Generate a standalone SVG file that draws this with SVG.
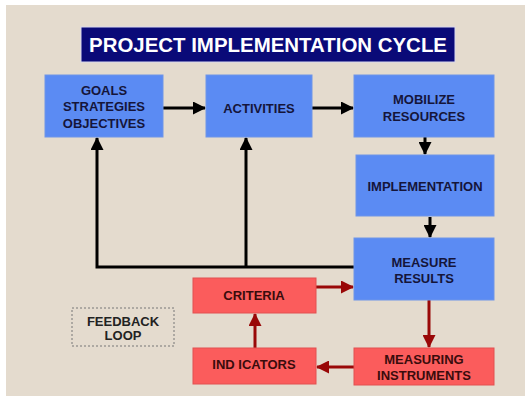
<svg xmlns="http://www.w3.org/2000/svg" width="529" height="396" viewBox="0 0 529 396">
<style>
.bg{fill:#e4dbce}
.blue{fill:#5b8bf3;stroke:#6f95e8;stroke-width:1}
.red{fill:#fb5c5c;stroke:#e25050;stroke-width:1}
.t{font-family:"Liberation Sans",Arial,sans-serif;font-weight:bold;font-size:13px;text-anchor:middle}
.tb{fill:#15153a}
.tr{fill:#3a0c0c}
.k{fill:none;stroke:#000;stroke-width:3}
.r{fill:none;stroke:#990808;stroke-width:3}
</style>
<defs>
<marker id="ak" markerUnits="userSpaceOnUse" markerWidth="13" markerHeight="13" viewBox="0 0 13 13" refX="12" refY="6.5" orient="auto"><path d="M0,0 L13,6.5 L0,13 Z" fill="#000"/></marker>
<marker id="ar" markerUnits="userSpaceOnUse" markerWidth="13" markerHeight="13" viewBox="0 0 13 13" refX="12" refY="6.5" orient="auto"><path d="M0,0 L13,6.5 L0,13 Z" fill="#990808"/></marker>
</defs>
<rect x="0" y="0" width="529" height="396" fill="#ffffff"/>
<rect class="bg" x="6" y="5" width="519" height="391"/>
<g id="title">
<rect x="81" y="27" width="374" height="35" fill="#0a0a78" stroke="#d8d8ee" stroke-width="1"/>
<text x="268" y="52" font-family="Liberation Sans, Arial, sans-serif" font-weight="bold" font-size="20" fill="#ffffff" text-anchor="middle" textLength="358" lengthAdjust="spacingAndGlyphs">PROJECT IMPLEMENTATION CYCLE</text>
</g>
<g id="connectors">
<path class="k" d="M163,108 H205" marker-end="url(#ak)"/>
<path class="k" d="M312,108 H353" marker-end="url(#ak)"/>
<path class="k" d="M425,137 V154" marker-end="url(#ak)"/>
<path class="k" d="M430,217 V237" marker-end="url(#ak)"/>
<path class="k" d="M354,267 H97 V138" marker-end="url(#ak)"/>
<path class="k" d="M246,267 V138" marker-end="url(#ak)"/>
<path class="r" d="M316,287 H353" marker-end="url(#ar)"/>
<path class="r" d="M429,300 V347" marker-end="url(#ar)"/>
<path class="r" d="M354,367 H317" marker-end="url(#ar)"/>
<path class="r" d="M255,348 V314" marker-end="url(#ar)"/>
</g>
<g id="goals">
<rect class="blue" x="45" y="75" width="118" height="62"/>
<text class="t tb" x="104" y="94.5">GOALS</text>
<text class="t tb" x="104" y="111">STRATEGIES</text>
<text class="t tb" x="104" y="127.5">OBJECTIVES</text>
</g>
<g id="activities">
<rect class="blue" x="206" y="75" width="106" height="62"/>
<text class="t tb" x="259" y="112.5">ACTIVITIES</text>
</g>
<g id="mobilize">
<rect class="blue" x="354" y="75" width="140" height="62"/>
<text class="t tb" x="424" y="103.5">MOBILIZE</text>
<text class="t tb" x="424" y="120.5">RESOURCES</text>
</g>
<g id="implementation">
<rect class="blue" x="356" y="155" width="138" height="61"/>
<text class="t tb" x="425" y="190.5">IMPLEMENTATION</text>
</g>
<g id="measure">
<rect class="blue" x="354" y="238" width="140" height="62"/>
<text class="t tb" x="424" y="266.5">MEASURE</text>
<text class="t tb" x="424" y="282.5">RESULTS</text>
</g>
<g id="criteria">
<rect class="red" x="193" y="278" width="123" height="35"/>
<text class="t tr" x="254" y="300">CRITERIA</text>
</g>
<g id="indicators">
<rect class="red" x="193" y="348" width="123" height="36"/>
<text class="t tr" x="254" y="368.5">IND ICATORS</text>
</g>
<g id="instruments">
<rect class="red" x="354" y="348" width="140" height="37"/>
<text class="t tr" x="424" y="363.5">MEASURING</text>
<text class="t tr" x="424" y="379.5">INSTRUMENTS</text>
</g>
<g id="feedback">
<rect x="72" y="308" width="102" height="38" fill="none" stroke="#777" stroke-width="1" stroke-dasharray="2,2"/>
<text class="t" fill="#222" x="123" y="325.5">FEEDBACK</text>
<text class="t" fill="#222" x="123" y="340">LOOP</text>
</g>
</svg>
